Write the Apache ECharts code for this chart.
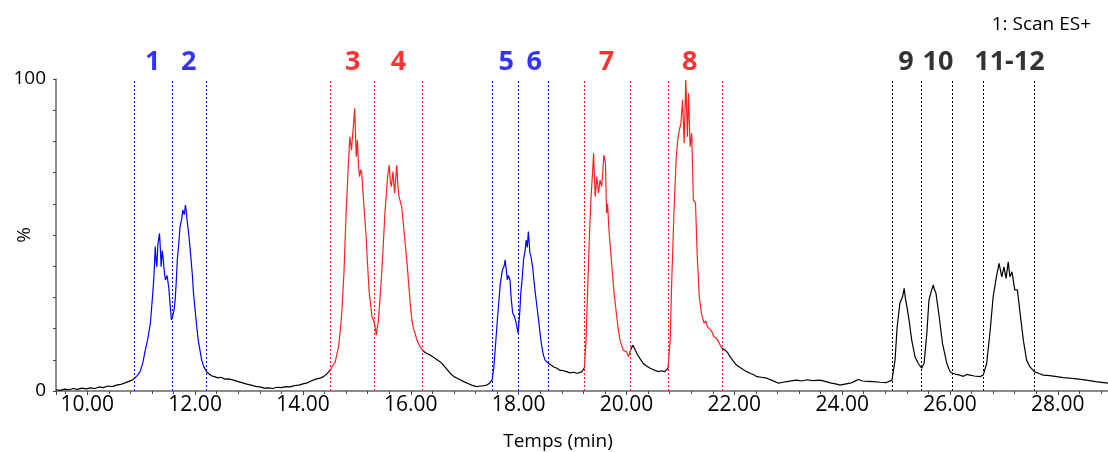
<!DOCTYPE html>
<html>
<head>
<meta charset="utf-8">
<script src="https://cdn.jsdelivr.net/npm/echarts@6/dist/echarts.min.js"></script>
<style>
html,body{margin:0;padding:0;background:#fff;}
#chart{width:1108px;height:452px;}
</style>
</head>
<body>
<div id="chart"></div>
<script>
// ---- data (time in min, intensity in %) ----
const baseline0 = [[9.42,0.4],[9.50,0.2],[9.58,0.6],[9.66,0.4],[9.74,0.8],[9.82,0.5],[9.90,0.9],[9.98,0.7],[10.06,1.0],[10.14,0.8],[10.22,1.3],[10.30,1.1],[10.38,1.6],[10.46,1.4],[10.54,1.9],[10.62,2.1],[10.70,2.6],[10.76,3.0],[10.82,3.4],[10.877,4.1]];
const peaks12 = [[10.93,5.0],[10.98,6.2],[11.03,9.0],[11.07,12.6],[11.12,16.5],[11.17,21.7],[11.22,32.4],[11.24,38],[11.26,46.3],[11.28,41],[11.29,39.8],[11.31,47],[11.34,50.5],[11.36,44],[11.37,39.8],[11.39,45],[11.41,42],[11.43,38],[11.45,35.6],[11.48,37],[11.51,33.4],[11.54,27],[11.56,22.8],[11.58,23.8],[11.61,26],[11.63,29.2],[11.65,35],[11.67,42],[11.70,48],[11.72,52.7],[11.75,55],[11.77,58],[11.80,56.5],[11.82,59.6],[11.84,57],[11.85,54.8],[11.88,50.5],[11.90,47],[11.92,43],[11.95,37],[11.97,31.3],[12.00,26],[12.03,20.6],[12.06,16],[12.09,13.1],[12.12,10],[12.16,7.8],[12.211,6.2]];
const baseline1 = [[12.25,5.6],[12.30,4.9],[12.36,4.6],[12.42,4.2],[12.48,4.4],[12.55,3.8],[12.62,3.9],[12.71,3.5],[12.80,3.0],[12.88,2.6],[12.96,2.2],[13.04,1.9],[13.12,1.5],[13.20,1.3],[13.28,0.9],[13.36,1.0],[13.44,0.8],[13.52,1.2],[13.60,1.1],[13.68,1.4],[13.76,1.3],[13.84,1.7],[13.92,1.9],[14.00,2.3],[14.08,2.6],[14.16,3.3],[14.24,3.8],[14.32,4.1],[14.38,4.6],[14.44,5.4],[14.505,6.7]];
const peaks34 = [[14.55,8.0],[14.60,9.4],[14.66,14.2],[14.69,19],[14.72,24.9],[14.76,37.7],[14.80,57],[14.82,64],[14.84,71.9],[14.87,81.5],[14.90,77.2],[14.92,82],[14.94,85.8],[14.96,90.6],[14.98,79],[14.99,75.1],[15.01,80.4],[15.03,72],[15.05,68.7],[15.07,71],[15.09,69.8],[15.12,62],[15.14,57],[15.17,50],[15.19,43],[15.21,37],[15.23,31.3],[15.26,27],[15.28,23.8],[15.31,22.5],[15.333,21.2],[15.36,17.9],[15.38,20.5],[15.40,22.8],[15.43,30],[15.46,37.7],[15.49,47],[15.52,57],[15.55,64],[15.57,68.7],[15.60,72.4],[15.62,67],[15.64,65.5],[15.67,70.3],[15.70,63.4],[15.72,68],[15.74,72.4],[15.76,66],[15.78,62.3],[15.83,59.1],[15.86,54],[15.89,48.4],[15.93,41],[15.96,34.5],[15.99,28],[16.02,22.8],[16.05,20],[16.08,18.5],[16.11,16.5],[16.14,15.3],[16.18,14],[16.216,13.1]];
const baseline2 = [[16.26,12.4],[16.30,12.0],[16.36,11.5],[16.42,10.8],[16.48,10.1],[16.54,9.4],[16.60,8.4],[16.66,7.2],[16.73,5.7],[16.80,4.6],[16.88,3.9],[16.98,3.0],[17.06,2.4],[17.14,1.8],[17.22,1.4],[17.30,1.6],[17.36,1.7],[17.41,1.9],[17.46,2.5],[17.508,3.5]];
const peaks56 = [[17.54,7.5],[17.56,12.1],[17.61,23.8],[17.66,34.5],[17.70,38.8],[17.73,40],[17.75,42],[17.77,39],[17.79,35.6],[17.81,37],[17.84,35.6],[17.86,30],[17.89,24.9],[17.92,24],[17.94,22.8],[17.97,20.5],[17.99,18.5],[18.02,25],[18.04,31.3],[18.07,37],[18.09,42],[18.12,45],[18.14,48.4],[18.16,46],[18.18,51.1],[18.21,44.1],[18.23,43],[18.26,39.8],[18.28,36],[18.31,31.3],[18.34,27],[18.37,22.8],[18.40,18],[18.43,14.2],[18.46,11.5],[18.49,9.9],[18.552,8.9]];
const baseline3 = [[18.60,8.3],[18.66,7.6],[18.71,7.3],[18.77,6.6],[18.83,6.5],[18.89,6.2],[18.95,5.8],[19.01,6.0],[19.08,5.7],[19.13,5.9],[19.17,6.2],[19.219,7.3]];
const peak7 = [[19.25,16.3],[19.28,32.4],[19.31,48.4],[19.34,61.2],[19.37,69.8],[19.39,76.2],[19.42,62.3],[19.45,68.7],[19.48,63.4],[19.51,67.6],[19.54,65.5],[19.56,70],[19.58,75.6],[19.61,73],[19.63,57],[19.65,60],[19.67,52.7],[19.72,42],[19.77,31.3],[19.82,23.8],[19.85,19.5],[19.88,16.3],[19.94,13.1],[19.97,13.5],[20.00,12.6],[20.04,11],[20.072,13.1]];
const baseline4 = [[20.12,14.7],[20.16,13.2],[20.19,12.1],[20.25,10.4],[20.31,8.9],[20.37,8.0],[20.44,7.3],[20.50,6.8],[20.59,6.2],[20.65,6.5],[20.71,6.2],[20.771,7.3]];
const peak8 = [[20.81,16.3],[20.84,35.6],[20.88,57],[20.92,74],[20.95,80.4],[20.98,83.7],[21.01,85.8],[21.04,93.3],[21.07,79.4],[21.10,99.7],[21.13,81.5],[21.15,95.4],[21.18,78.3],[21.21,82.6],[21.24,61.2],[21.28,60.2],[21.31,44.1],[21.35,30.2],[21.39,24.9],[21.44,21.7],[21.47,22.5],[21.50,20.6],[21.53,21.2],[21.56,19.6],[21.59,18.8],[21.62,17.4],[21.66,17.0],[21.69,16.3],[21.73,15.0],[21.767,13.7]];
const baseline5 = [[21.83,13.1],[21.88,12.2],[21.92,11],[21.98,9.6],[22.04,8.3],[22.10,7.6],[22.17,6.8],[22.23,6.2],[22.30,5.6],[22.36,5.2],[22.42,4.6],[22.50,4.4],[22.60,4.1],[22.70,3.4],[22.82,2.5],[22.90,2.8],[23.00,3.1],[23.08,3.3],[23.16,3.5],[23.25,3.2],[23.35,3.6],[23.45,3.3],[23.59,3.5],[23.70,3.0],[23.80,2.5],[23.90,2.2],[23.96,1.9],[24.05,2.2],[24.15,2.5],[24.22,3.0],[24.30,3.7],[24.38,3.2],[24.48,3.1],[24.58,3.0],[24.70,2.8],[24.82,2.7],[24.924,3.5]];
const peaks9to12 = [[24.98,9.9],[25.02,20.6],[25.07,28.1],[25.12,30.2],[25.15,32.9],[25.17,30],[25.19,28.1],[25.24,22.8],[25.29,16.3],[25.35,11],[25.41,8.9],[25.474,7.3],[25.52,8.9],[25.57,18.5],[25.61,29.2],[25.66,32.4],[25.69,34],[25.71,32.5],[25.74,31.3],[25.80,23.8],[25.86,15.3],[25.94,8.9],[26.00,6.2],[26.05,5.7],[26.12,5.3],[26.18,5.1],[26.25,4.7],[26.31,5.3],[26.37,5.1],[26.45,4.8],[26.56,4.6],[26.616,5.1],[26.68,8.9],[26.74,18.5],[26.80,30.2],[26.86,36.6],[26.91,40.9],[26.96,36.6],[27.00,39.8],[27.04,36.1],[27.08,41.4],[27.11,36.6],[27.15,38.2],[27.20,32.4],[27.25,32.4],[27.30,24.9],[27.36,16.3],[27.42,9.9],[27.48,7.8],[27.562,6.2]];
const baseline6 = [[27.65,5.6],[27.73,5.1],[27.85,4.9],[27.98,4.6],[28.10,4.3],[28.22,4.1],[28.35,3.9],[28.53,3.5],[28.70,3.0],[28.93,2.5]];

// integration windows (cut lines, min) grouped by colour class
const blueCuts  = [10.877, 11.581, 12.211, 17.508, 17.990, 18.552];
const redCuts   = [14.505, 15.333, 16.216, 19.219, 20.072, 20.771, 21.767];
const blackCuts = [24.924, 25.474, 26.049, 26.616, 27.562];
// coloured trace windows [start, end, class]
const windows = [[10.877,12.211,'blue'],[14.505,16.216,'red'],[17.508,18.552,'blue'],[19.219,20.072,'red'],[20.771,21.767,'red']];
// peak labels
const peakNames = ['1','2','3','4','5','6','7','8','9','10','11-12'];
const peakTimes = [11.214, 11.881, 14.922, 15.771, 17.771, 18.290, 19.631, 21.175, 25.183, 25.777, 27.102];
const peakClass = ['blue','blue','red','red','blue','blue','red','red','black','black','black'];
const yTickLabels = {0:'0', 100:'100'};

// ---- build ----
const COLORS = {blue:'#0000ff', red:'#ff0000', black:'#000000'};
const LINECOLORS = {blue:'#0000ff', red:'#ff2020', black:'#000000'};
const trace = [].concat(baseline0, peaks12, baseline1, peaks34, baseline2, peaks56, baseline3, peak7, baseline4, peak8, baseline5, peaks9to12, baseline6);
const FONT = 'Open Sans';
const LABEL_Y = 105.4;

function cutSeries(list, cls){
  return {
    type: 'line', data: [], silent: true, z: 2,
    markLine: {
      silent: true, symbol: 'none', animation: false,
      label: {show: false},
      lineStyle: {color: LINECOLORS[cls], type: [2, 2], width: 1},
      emphasis: {disabled: true},
      data: list.map(t => ({xAxis: t}))
    }
  };
}

const chart = echarts.init(document.getElementById('chart'), null, {renderer: 'canvas'});
chart.setOption({
  animation: false,
  backgroundColor: '#ffffff',
  textStyle: {fontFamily: FONT},
  title: {
    text: '1: Scan ES+', right: 12, top: 10,
    textStyle: {fontFamily: FONT, fontSize: 19, fontWeight: 'normal', color: '#000'}
  },
  grid: {left: 56, right: 0, top: 79, bottom: 61, containLabel: false, outerBoundsMode: 'none'},
  xAxis: {
    type: 'value', min: 9.42, max: 28.93, splitNumber: 10,
    name: 'Temps (min)', nameLocation: 'middle', nameGap: 41,
    nameTextStyle: {fontFamily: FONT, fontSize: 19, color: '#000', padding: [0, 48, 0, 0]},
    axisLine: {show: true, onZero: false, lineStyle: {color: '#666', width: 1.5}},
    axisTick: {show: true, length: 4, lineStyle: {color: '#444', width: 1}},
    minorTick: {show: true, splitNumber: 5, length: 3, lineStyle: {color: '#444', width: 1}},
    splitLine: {show: false},
    axisLabel: {
      showMinLabel: false, showMaxLabel: false, margin: 4,
      fontFamily: FONT, fontSize: 21, color: '#000',
      formatter: v => (Math.abs(v - Math.round(v)) < 1e-6 && Math.round(v) % 2 === 0) ? v.toFixed(2) : ''
    }
  },
  yAxis: {
    type: 'value', min: 0, max: 100, interval: 10,
    name: '%', nameLocation: 'middle', nameGap: 22, nameRotate: 90, nameMoveOverlap: false,
    nameTextStyle: {fontFamily: FONT, fontSize: 19, color: '#000'},
    axisLine: {show: true, lineStyle: {color: '#666', width: 1.5}},
    axisTick: {show: true, length: 3, lineStyle: {color: '#444', width: 1}},
    splitLine: {show: false},
    axisLabel: {
      margin: 10, fontFamily: FONT, fontSize: 19, color: '#000',
      formatter: v => yTickLabels[v] !== undefined ? yTickLabels[v] : ''
    }
  },
  visualMap: {
    type: 'piecewise', show: false, dimension: 0, seriesIndex: [0],
    pieces: windows.map(w => ({gte: w[0], lte: w[1], color: LINECOLORS[w[2]]})),
    outOfRange: {color: '#000000'}
  },
  series: [
    {
      type: 'line', data: trace, showSymbol: false, symbol: 'none', smooth: false,
      lineStyle: {width: 1.2}, z: 3, silent: true
    },
    cutSeries(blueCuts, 'blue'),
    cutSeries(redCuts, 'red'),
    cutSeries(blackCuts, 'black'),
    {
      type: 'scatter', clip: false, symbolSize: 0, silent: true, z: 5,
      data: peakNames.map((n, i) => ({
        value: [peakTimes[i], LABEL_Y], name: n,
        label: {color: COLORS[peakClass[i]]}
      })),
      label: {
        show: true, position: 'inside', formatter: p => p.name,
        fontFamily: FONT, fontSize: 27, fontWeight: 'bold'
      }
    }
  ]
});
</script>
</body>
</html>
